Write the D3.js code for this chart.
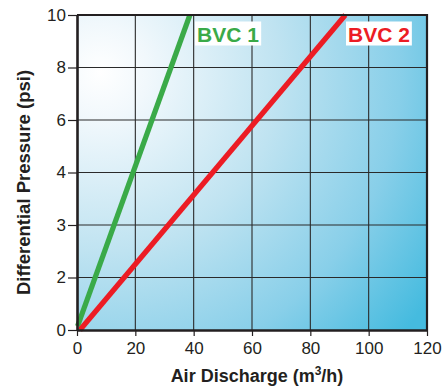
<!DOCTYPE html>
<html><head><meta charset="utf-8">
<script src="https://cdn.jsdelivr.net/npm/d3@7"></script>
<style>
body{margin:0;background:#fff;}
text{font-family:"Liberation Sans",Arial,Helvetica,sans-serif;}
</style></head>
<body>
<svg id="chart" width="447" height="387"></svg>
<script>
const xTicks = [0, 20, 40, 60, 80, 100, 120];
const yTicks = [0, 2, 3, 4, 6, 8, 10];
const seriesNames = ["BVC 1", "BVC 2"];
const seriesColors = ["#3aaa48", "#ec1c24"];
const bvc1 = [{x: 0.2, y: 0.15}, {x: 38.7, y: 10}];
const bvc2 = [{x: 1.0, y: 0}, {x: 92.0, y: 10}];

const svg = d3.select("#chart");
const L = 77, R = 427, T = 15, B = 330;

const x = d3.scaleLinear().domain([0, 120]).range([L, R]);
const y = d3.scaleLinear().domain(yTicks).range(yTicks.map((d, i) => B - i * (B - T) / (yTicks.length - 1)));

// background gradient
const defs = svg.append("defs");
const grad = defs.append("radialGradient").attr("id", "bg")
  .attr("gradientUnits", "userSpaceOnUse")
  .attr("cx", 100).attr("cy", 72).attr("r", 400);
[[0, "#ffffff"], [0.12, "#f1f8fc"], [0.45, "#bfe3f1"], [0.75, "#88cfe9"], [1, "#45bbdf"]]
  .forEach(s => grad.append("stop").attr("offset", s[0]).attr("stop-color", s[1]));

svg.append("rect").attr("x", L).attr("y", T).attr("width", R - L).attr("height", B - T)
  .attr("fill", "url(#bg)");

// grid
svg.append("g").selectAll("line").data(xTicks.slice(1, -1)).join("line")
  .attr("x1", d => x(d)).attr("x2", d => x(d)).attr("y1", T).attr("y2", B)
  .attr("stroke", "#2a2a2a").attr("stroke-width", 1.1);
svg.append("g").selectAll("line").data(yTicks.slice(1, -1)).join("line")
  .attr("y1", d => y(d)).attr("y2", d => y(d)).attr("x1", L).attr("x2", R)
  .attr("stroke", "#2a2a2a").attr("stroke-width", 1.1);

// series lines
const line = d3.line().x(d => x(d.x)).y(d => y(d.y));
[bvc1, bvc2].forEach((s, i) => {
  svg.append("path").datum(s).attr("d", line)
    .attr("fill", "none").attr("stroke", seriesColors[i]).attr("stroke-width", 5.2);
});

// frame top/right
svg.append("path").attr("d", `M${L},${T}H${R}V${B}`).attr("fill", "none")
  .attr("stroke", "#231f20").attr("stroke-width", 2.2);

// axes
const xAxis = svg.append("g").attr("transform", `translate(0,${B})`)
  .call(d3.axisBottom(x).tickValues(xTicks).tickSize(6).tickSizeOuter(0).tickPadding(5));
const yAxis = svg.append("g").attr("transform", `translate(${L},0)`)
  .call(d3.axisLeft(y).tickValues(yTicks).tickSize(9).tickSizeOuter(0).tickPadding(3));
[xAxis, yAxis].forEach(a => {
  a.select(".domain").attr("stroke", "#231f20").attr("stroke-width", 2.6);
  a.selectAll(".tick line").attr("stroke", "#231f20").attr("stroke-width", 1.2);
  a.selectAll(".tick text").attr("fill", "#231f20").style("font-size", "17px")
    .style("font-family", "'Liberation Sans',Arial,sans-serif");
});
xAxis.selectAll(".tick text").attr("dy", "0.71em").attr("y", 12);
yAxis.selectAll(".tick text").attr("x", -11);

// series labels with white boxes
const labelPos = [[{x: 42.3, y: 10}], [{x: 92.7, y: 10}]];
const labels = [{x: 197, y: 41.5}, {x: 348, y: 41.5}];
seriesNames.forEach((name, i) => {
  const g = svg.append("g");
  const t = g.append("text").attr("x", labels[i].x).attr("y", labels[i].y)
    .attr("fill", seriesColors[i]).style("font-size", "21px").style("font-weight", "bold").text(name);
  const bb = t.node().getBBox();
  g.insert("rect", "text").attr("x", bb.x - 2).attr("y", labels[i].y - 20)
    .attr("width", bb.width + 4).attr("height", 24).attr("fill", "#ffffff");
});

// axis titles
const xt = svg.append("text").attr("x", 257).attr("y", 382).attr("text-anchor", "middle")
  .attr("fill", "#231f20").style("font-size", "18px").style("font-weight", "bold");
xt.append("tspan").text("Air Discharge (m");
xt.append("tspan").attr("dy", -7).style("font-size", "12px").text("3");
xt.append("tspan").attr("dy", 7).text("/h)");

svg.append("text").attr("transform", "translate(30,182.5) rotate(-90)").attr("text-anchor", "middle")
  .attr("fill", "#231f20").style("font-size", "18.5px").style("font-weight", "bold")
  .text("Differential Pressure (psi)");
</script>
</body></html>
